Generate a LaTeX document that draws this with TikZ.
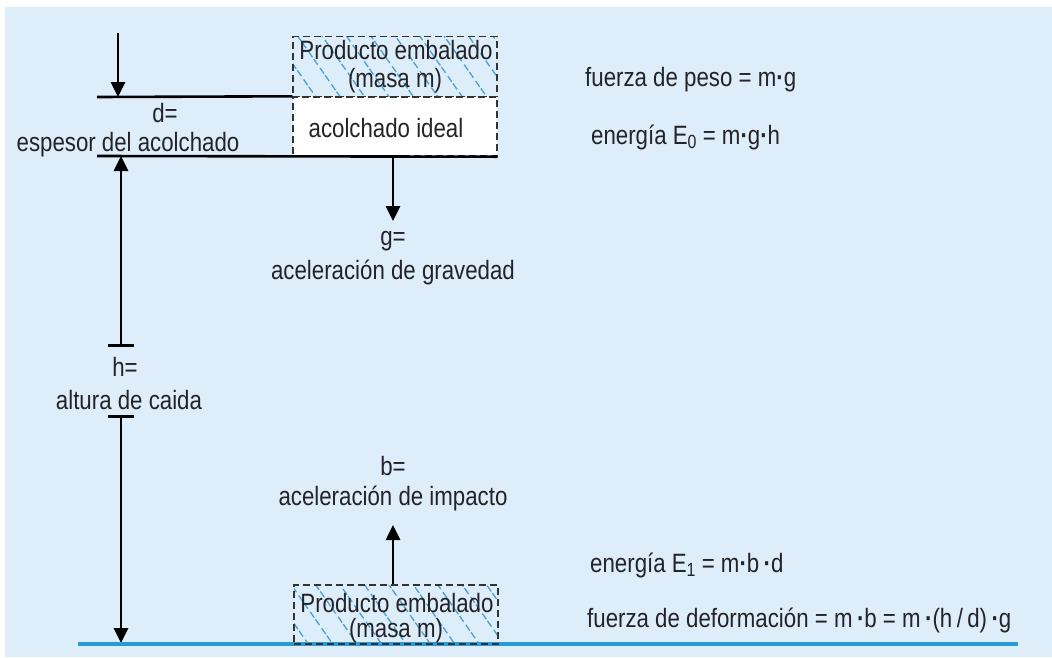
\documentclass[tikz,border=0pt]{standalone}
\usepackage{fontspec}
\setmainfont{Liberation Sans}[FakeStretch=0.84]
\usetikzlibrary{arrows.meta,patterns.meta}
\definecolor{bg}{RGB}{221,237,249}
\definecolor{txt}{RGB}{35,35,40}
\definecolor{hatch}{RGB}{75,160,212}
\definecolor{ground}{RGB}{40,155,215}
\newcommand\lowsub[1]{\raisebox{-0.35ex}{\fontsize{19}{19}\selectfont #1}}
\newcommand\mdot{\textbf{·}}
\tikzset{
  lbl/.style={text=txt,font=\fontsize{26.5}{30}\selectfont,inner sep=0pt},
  blk/.style={draw=black,line width=2.6pt},
  arr/.style={blk,-{Triangle[width=14pt,length=15pt]}},
  bararr/.style={blk,{Bar[width=26pt,line width=2.6pt]}-{Triangle[width=14pt,length=15pt]}},
  prodbox/.style={draw=black!80,line width=1.4pt,dash pattern=on 7pt off 4pt,
    pattern={Lines[angle=-55,distance=20pt,line width=1.3pt]},pattern color=hatch,
    minimum width=204pt,minimum height=60pt,inner sep=0pt},
  cushbox/.style={draw=black!80,line width=1.4pt,dash pattern=on 7pt off 4pt,fill=white,
    minimum width=204pt,minimum height=59pt,inner sep=0pt}
}
\begin{document}
\begin{tikzpicture}[x=1pt,y=-1pt]
\useasboundingbox (0,0) rectangle (1052,657);
\fill[white] (0,0) rectangle (1052,657);
\fill[bg] (5,7) rectangle (1052,657);

% top product box and cushion
\node[prodbox] (topbox) at (395,66.5) {};
\node[cushbox] (cush) at (395,126.5) {};
\node[lbl] (toptxt1) at (396,50) {Producto embalado};
\node[lbl] (toptxt2) at (395,81) {(masa m)};
\node[lbl] (cushtxt) at (386,128) {acolchado ideal};

% d lines
\coordinate (dtopL) at (97,97);
\coordinate (dbotL) at (97,156);
\draw[blk] (dtopL) -- (cush.north west);
\draw[blk] (dbotL) -- (cush.south east);
\node[lbl] (dlbl) at (165,113) {d=};
\node[lbl] (dtxt) at (128,145) {espesor del acolchado};

% top arrow
\coordinate (a0) at (118,33);
\coordinate (a0e) at (118,97);
\draw[arr] (a0) -- (a0e);

% h column
\coordinate (hb1) at (121,347);
\coordinate (hb1e) at (121,156);
\draw[bararr] (hb1) -- (hb1e);
\node[lbl] (hlbl) at (125,367) {h=};
\node[lbl] (htxt) at (129,400) {altura de caida};
\coordinate (hb2) at (121,415);
\coordinate (hb2e) at (121,643);
\draw[bararr] (hb2) -- (hb2e);

% g arrow
\coordinate (gtip) at (393,221);
\draw[arr] (cush.south -| gtip) -- (gtip);
\node[lbl] (glbl) at (393,241) {g=};
\node[lbl] (gtxt) at (393,272) {aceleración de gravedad};

% ground
\coordinate (gl) at (78,644);
\coordinate (gr) at (1018,644);
\draw[ground,line width=4pt] (gl) -- (gr);

% bottom product box
\node[prodbox,minimum height=59pt] (botbox) at (396,614.5) {};
\node[lbl] (bottxt1) at (397,603) {Producto embalado};
\node[lbl] (bottxt2) at (396,631) {(masa m)};

% b arrow
\coordinate (btip) at (393,525);
\draw[arr] (botbox.north -| btip) -- (btip);
\node[lbl] (blbl) at (393,466) {b=};
\node[lbl] (btxt) at (393,498) {aceleración de impacto};

% formulas
\node[lbl,anchor=west] (f1) at (585,80) {fuerza de peso = m\mdot g};
\node[lbl,anchor=west] (f2) at (591,137) {energía E\lowsub{0} = m\mdot g\mdot h};
\node[lbl,anchor=west] (f3) at (590,565) {energía E\lowsub{1} = m\mdot b\,\mdot d};
\node[lbl,anchor=west] (f4) at (587,620) {fuerza de deformación = m\,\mdot b = m\,\mdot(h\,/\,d)\,\mdot g};
\end{tikzpicture}
\end{document}
